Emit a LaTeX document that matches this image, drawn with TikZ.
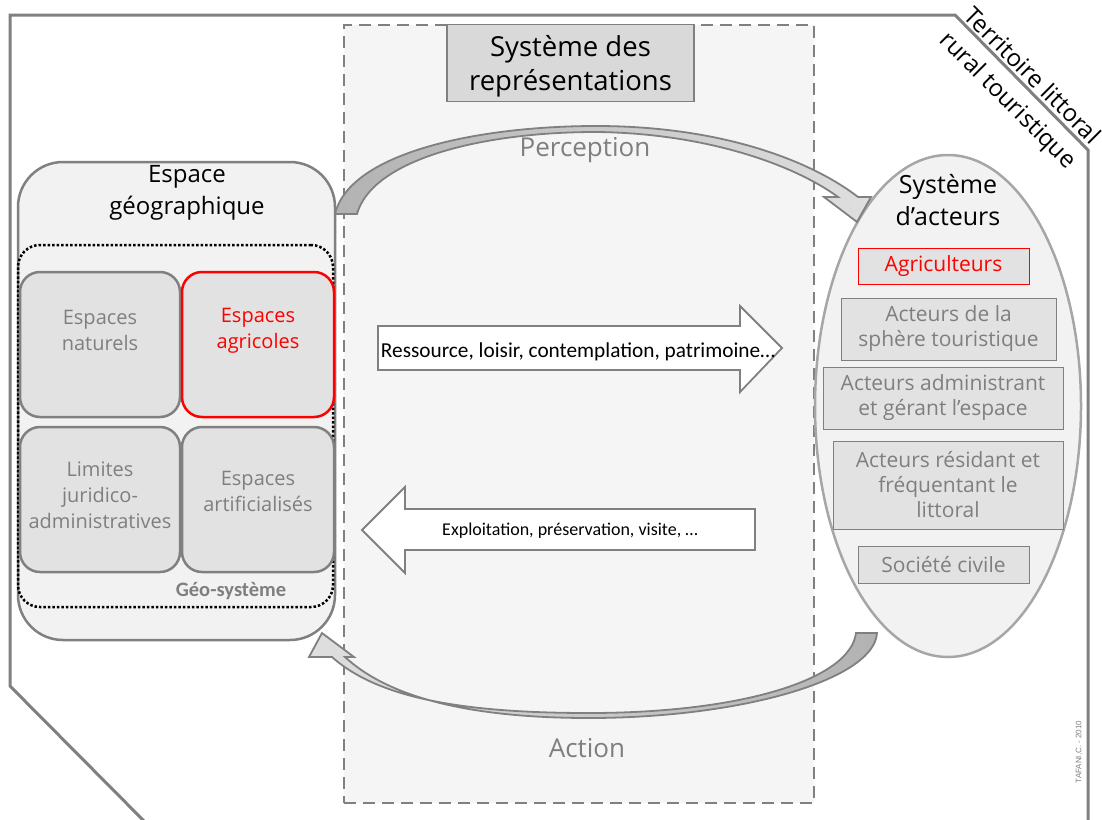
\documentclass[tikz,border=0pt]{standalone}
\usepackage{fontspec}
\setmainfont{Open Sans}
\newfontfamily\calibri{Carlito}
\newfontfamily\arial{Liberation Sans}
\usetikzlibrary{shapes.geometric}

\definecolor{trait}{HTML}{808080}
\definecolor{gristexte}{HTML}{7F7F7F}
\definecolor{fondbloc}{HTML}{E2E2E2}
\definecolor{fondtitre}{HTML}{D9D9D9}
\definecolor{fondzone}{HTML}{F2F2F2}
\definecolor{fondrep}{HTML}{F5F5F5}
\definecolor{rouge}{HTML}{FF0000}

\begin{document}
\begin{tikzpicture}[x=1pt, y=-1pt, >=latex]
\tikzstyle{bloc} = [draw=trait, line width=2.5pt, fill=fondbloc, rounded corners=20pt, inner sep=0pt]
\tikzstyle{texte} = [align=center, text=gristexte, font=\fontsize{20}{26}\selectfont]
\tikzstyle{acteur} = [draw=trait, line width=1pt, fill=fondbloc, inner sep=0pt, align=center, text=gristexte, font=\fontsize{21}{25}\selectfont]
\tikzstyle{titre} = [align=center, font=\fontsize{24}{32}\selectfont]
\tikzstyle{fleche} = [draw=trait, line width=1.8pt, fill=white]
\tikzstyle{courbe} = [draw=trait, line width=1.8pt]

\useasboundingbox (0,0) rectangle (1102,819);

% cadre du territoire
\draw[trait, line width=3pt] (145,822) -- (10,686) -- (10,15) -- (955,15) -- (1088,150) -- (1088,822);
\node[rotate=-45, align=center, font=\fontsize{24}{34}\selectfont] (territoire) at (1019,89) {Territoire littoral\\rural touristique};

% systeme des representations
\node[draw=trait, dashed, dash pattern=on 12pt off 7pt, line width=2.5pt, fill=fondrep, minimum width=470, minimum height=778, inner sep=0pt] (representations) at (579,414) {};
\node[draw=trait, line width=1.5pt, fill=fondtitre, minimum width=247, minimum height=77, inner sep=0pt, align=center, font=\fontsize{27.5}{34}\selectfont] (titresys) at (570.5,63) {};
\node[align=center, font=\fontsize{27.5}{34}\selectfont] (textesys) at ([yshift=-3pt]titresys.center) {Système des\\représentations};

% espace geographique
\node[draw=trait, line width=2.5pt, fill=fondzone, rounded corners=45pt, minimum width=317, minimum height=478, inner sep=0pt] (espace) at (176.5,401) {};
\node[titre] (titreespace) at (187,193) {Espace\\géographique};
\node[draw, dotted, line width=2.5pt, rounded corners=22pt, minimum width=315, minimum height=362, inner sep=0pt] (geosysteme) at (175.5,426) {};
\node[bloc, minimum width=160, minimum height=145] (naturels) at (100,344.5) {};
\node[bloc, draw=rouge, minimum width=152, minimum height=145] (agricoles) at (258,344.5) {};
\node[bloc, minimum width=160, minimum height=145] (limites) at (100,499.5) {};
\node[bloc, minimum width=152, minimum height=145] (artificialises) at (258,499.5) {};
\node[texte] at ([yshift=14pt]naturels.center) {Espaces\\naturels};
\node[texte, text=rouge] at ([yshift=14pt]agricoles.center) {Espaces\\agricoles};
\node[texte] at ([yshift=4pt]limites.center) {Limites\\juridico-\\administratives};
\node[texte] at ([yshift=8pt]artificialises.center) {Espaces\\artificialisés};
\node[text=gristexte, font=\calibri\bfseries\fontsize{20.5}{22}\selectfont] (geo) at (231,591) {Géo-système};

% systeme d'acteurs
\node[ellipse, draw=trait!70, line width=2.5pt, fill=fondzone, minimum width=266, minimum height=502, inner sep=0pt] (acteurs) at (948,406) {};
\node[titre, font=\fontsize{25}{32}\selectfont] (titreacteurs) at (948,200) {Système\\d’acteurs};
\node[acteur, draw=rouge, text=rouge, minimum width=171, minimum height=36] (agriculteurs) at (943.5,266) {Agriculteurs};
\node[acteur, minimum width=215, minimum height=62] (touristique) at (948.5,329) {Acteurs de la\\sphère touristique};
\node[acteur, minimum width=240, minimum height=62] (administrant) at (943,398) {Acteurs administrant\\et gérant l’espace};
\node[acteur, minimum width=230, minimum height=88] (residant) at (948,485) {Acteurs résidant et\\fréquentant le\\littoral};
\node[acteur, minimum width=171, minimum height=37] (civile) at (943.5,564.5) {Société civile};

% fleches droites
\draw[fleche] (378,326) -- (740,326) -- (740,306) -- (782,348) -- (740,392) -- (740,370) -- (378,370) -- cycle;
\node[font=\calibri\fontsize{21.3}{24}\selectfont] (ressource) at (578,352) {Ressource, loisir, contemplation, patrimoine…};
\draw[fleche] (755,509) -- (405,509) -- (405,487) -- (362,530) -- (405,573) -- (405,550) -- (755,550) -- cycle;
\node[font=\calibri\fontsize{18}{20}\selectfont] (exploitation) at (570,531) {Exploitation, préservation, visite, …};

% fleches courbes
\path[courbe, left color=gray!60, right color=gray!25]
  (335,214) .. controls (350,152) and (480,126) .. (596,126)
  .. controls (720,126) and (810,160) .. (858,197)
  -- (871,197) -- (857,222) -- (824,197) -- (838,197)
  .. controls (790,162) and (700,133) .. (596,132)
  .. controls (480,132) and (372,160) .. (357,214) -- cycle;
\node[text=gristexte, font=\fontsize{26}{30}\selectfont] (perception) at (585,150) {Perception};
\path[courbe, left color=gray!25, right color=gray!60]
  (856,633) -- (877,633)
  .. controls (874,680) and (740,718) .. (589,718)
  .. controls (460,718) and (385,694) .. (345,657)
  -- (354,657) -- (322,633) -- (309,657) -- (332,657)
  .. controls (380,700) and (470,713) .. (589,713)
  .. controls (740,713) and (850,680) .. (856,633) -- cycle;
\node[text=gristexte, font=\fontsize{26}{30}\selectfont] (action) at (587,748) {Action};

\node[rotate=90, text=gristexte, font=\arial\fontsize{8}{10}\selectfont] (credit) at (1079,752) {TAFANI,C. - 2010};
\end{tikzpicture}
\end{document}
